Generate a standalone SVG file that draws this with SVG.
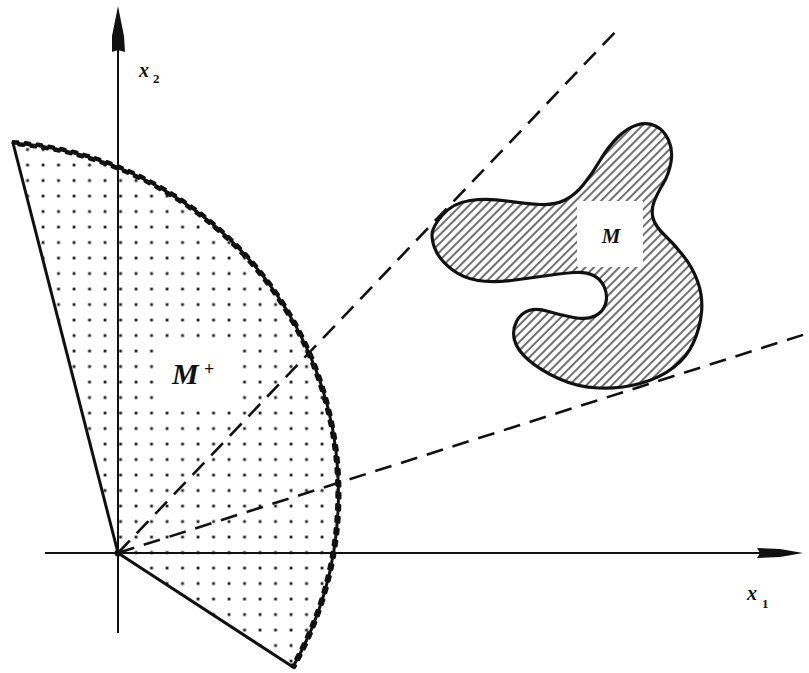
<svg xmlns="http://www.w3.org/2000/svg" width="809" height="673" viewBox="0 0 809 673">
<style>
.edge{fill:none;stroke:#111;stroke-width:3;stroke-linecap:round;stroke-linejoin:round}
.wave{fill:none;stroke:#111;stroke-width:2.8;stroke-linecap:round;stroke-dasharray:5 7}
.axis{fill:none;stroke:#111;stroke-width:2}
.dash{fill:none;stroke:#111;stroke-width:2.6;stroke-dasharray:17 10}
.lbl{font-family:"Liberation Serif",serif;font-style:italic;font-weight:bold;fill:#111}
.sub{font-family:"Liberation Serif",serif;font-style:normal;font-weight:bold;fill:#111}
</style>
<defs>
<pattern id="dots" patternUnits="userSpaceOnUse" x="4.25" y="2.25" width="15.5" height="15.5">
<rect x="6.4" y="6.4" width="2.8" height="2.8" fill="#222"/>
</pattern>
<pattern id="hatch" patternUnits="userSpaceOnUse" width="12" height="6" patternTransform="rotate(-45)">
<line x1="0" y1="3" x2="12" y2="3" stroke="#222" stroke-width="1.3"/>
</pattern>
<path id="blob" d="M432,235 Q432,227 442.5,215 Q453,203 470,200.5 Q487,198 507,201 Q527,204 541,204.5 Q555,205 565,200 Q575,195 583.5,184.5 Q592,174 600,160.5 Q608,147 617.5,137.5 Q627,128 637,125 Q647,122 655.5,126 Q664,130 668.5,140 Q673,150 671,162 Q669,174 663,184 Q657,194 654,202 Q651,210 653,218 Q655,226 664.5,235 Q674,244 683.5,256 Q693,268 698,282.5 Q703,297 701.5,312.5 Q700,328 693.5,342.5 Q687,357 673.5,367.5 Q660,378 640,383.5 Q620,389 598.5,388 Q577,387 558.5,378.5 Q540,370 528.5,360 Q517,350 514.5,340 Q512,330 516.5,321.5 Q521,313 529,310.5 Q537,308 548.5,311.5 Q560,315 573.5,317.5 Q587,320 595,316 Q603,312 605.5,304 Q608,296 604.5,287.5 Q601,279 593.5,275.5 Q586,272 576,272.5 Q566,273 551.5,275 Q537,277 515,280 Q493,283 478,280.5 Q463,278 452,269.5 Q441,261 436.5,252 Q432,243 432,235 Z"/>
</defs>
<rect width="809" height="673" fill="#fff"/>

<g id="cone-M-plus">
<path d="M118,553 L13,143 A352,352 0 0 1 293,667 Z" fill="url(#dots)"/>
<rect x="160" y="346" width="73" height="55" fill="#fff"/>
<path class="edge" d="M293,667 L118,553 L13,143"/>
<path class="edge" d="M13,143 A352,352 0 0 1 293,667" stroke-width="3.4"/>
<path class="wave" d="M13.14,141.33 A353.7,353.7 0 0 1 294.47,667.84"/>
<path class="wave" d="M12.88,144.71 A350.3,350.3 0 0 1 291.51,666.17" stroke-dashoffset="6"/>
<text class="lbl" x="172" y="384" font-size="30">M</text>
<text class="sub" x="204" y="375" font-size="18">+</text>
</g>

<g id="set-M">
<use href="#blob" fill="url(#hatch)"/>
<rect x="577" y="201" width="66" height="66" fill="#fff"/>
<use href="#blob" fill="none" stroke="#111" stroke-width="3.2"/>
<text class="lbl" x="611" y="243" font-size="21" text-anchor="middle">M</text>
</g>

<g id="connectors">
<line class="dash" x1="118" y1="553" x2="620" y2="27"/>
<line class="dash" x1="118" y1="553" x2="809" y2="333"/>
</g>

<g id="axes">
<line class="axis" x1="45" y1="553" x2="760" y2="553"/>
<polygon points="803,553 780,549 757,548 760,553 757,558 780,557" fill="#111"/>
<line class="axis" x1="118" y1="633" x2="118" y2="48"/>
<polygon points="118,6 124,36 125,52 118,50 112,52 112,36" fill="#111"/>
<circle cx="118" cy="553" r="3.5" fill="#111"/>
<text class="lbl" x="139" y="77" font-size="20">x</text>
<text class="sub" x="153" y="83" font-size="13">2</text>
<text class="lbl" x="747" y="600" font-size="20">x</text>
<text class="sub" x="762" y="608" font-size="13">1</text>
</g>
</svg>
